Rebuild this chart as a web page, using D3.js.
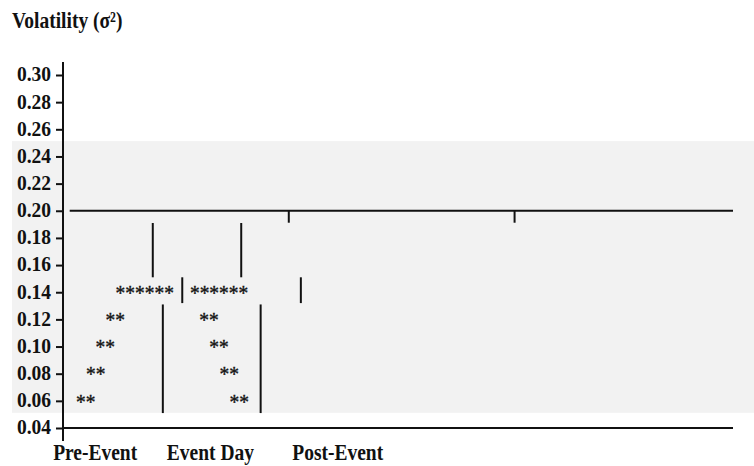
<!DOCTYPE html>
<html>
<head>
<meta charset="utf-8">
<script src="https://cdn.jsdelivr.net/npm/d3@7"></script>
<style>
  html, body { margin: 0; padding: 0; background: #ffffff; }
  svg { display: block; }
</style>
</head>
<body>
<div id="chart"></div>
<script>
// ---------------- data ----------------
const titleText = "Volatility (σ²)";
const yTicks = [0.04, 0.06, 0.08, 0.10, 0.12, 0.14, 0.16, 0.18, 0.20, 0.22, 0.24, 0.26, 0.28, 0.30];
const categories = ["Pre-Event", "Event Day", "Post-Event"];
const categoryPos = [4.8, 22.0, 41.0];          // position on the time axis (0-100)
const bandRange = [0.0512, 0.2513];              // shaded volatility band
const refLevel = 0.20;                            // reference level line
const refLineSpan = [1.0, 100];
const baseLevel = 0.04;
const baseLineSpan = [0, 100];
const refTickPos = [33.7, 67.4];                  // small marks hanging from the reference line
const refTickLow = 0.1912;
const barX   = [13.4, 26.6, 17.8, 35.5, 14.9, 29.5];
const barLow = [0.151, 0.151, 0.132, 0.132, 0.051, 0.051];
const barHigh= [0.191, 0.191, 0.151, 0.151, 0.131, 0.131];
const starX     = [3.4, 4.9, 6.3, 7.8, 12.2, 23.3, 21.8, 23.3, 24.8, 26.3];
const starValue = [0.06, 0.08, 0.10, 0.12, 0.14, 0.14, 0.12, 0.10, 0.08, 0.06];
const starCount = [2, 2, 2, 2, 6, 6, 2, 2, 2, 2];

// ---------------- layout ----------------
const W = 754, H = 466;
const FONT = "'Liberation Serif', 'Times New Roman', Times, serif";
const FS = 19.5;
const ink = "#111111";
const stretchBig = 1.15;    // vertical stretch of title / category text
const stretchTick = 1.08;   // vertical stretch of tick labels

const x = d3.scaleLinear().domain([0, 100]).range([63, 733]);
const y = d3.scaleLinear().domain([0.04, 0.30]).range([428, 75]);

const svg = d3.select("#chart").append("svg")
  .attr("width", W).attr("height", H)
  .style("background", "#ffffff");

// shaded band
svg.append("rect")
  .attr("x", 12).attr("width", W - 12)
  .attr("y", y(bandRange[1]))
  .attr("height", y(bandRange[0]) - y(bandRange[1]))
  .attr("fill", "#f2f2f2");

// title
svg.append("text")
  .attr("transform", `translate(12,28) scale(1,${stretchBig})`)
  .attr("font-family", FONT).attr("font-size", FS).attr("font-weight", "bold")
  .attr("fill", ink)
  .text(titleText);

// y axis
const yAxis = d3.axisLeft(y)
  .tickValues(yTicks)
  .tickFormat(d3.format(".2f"))
  .tickSize(7).tickSizeOuter(0).tickPadding(5);

const gy = svg.append("g").attr("transform", `translate(${x(0)},0)`).call(yAxis);
gy.select(".domain").remove();
gy.selectAll(".tick line").attr("stroke", ink).attr("stroke-width", 2);
gy.selectAll(".tick text")
  .attr("font-family", FONT).attr("font-size", FS).attr("font-weight", "bold")
  .attr("dy", "0.28em")
  .attr("transform", `scale(1,${stretchTick})`)
  .attr("fill", ink);
gy.append("line")
  .attr("x1", 0).attr("x2", 0)
  .attr("y1", y(0.30) - 13).attr("y2", y(0.04) + 13)
  .attr("stroke", ink).attr("stroke-width", 2);

// horizontal lines
svg.append("line")
  .attr("x1", x(refLineSpan[0])).attr("x2", x(refLineSpan[1]))
  .attr("y1", y(refLevel)).attr("y2", y(refLevel))
  .attr("stroke", ink).attr("stroke-width", 2.2);
svg.append("line")
  .attr("x1", x(baseLineSpan[0])).attr("x2", x(baseLineSpan[1]))
  .attr("y1", y(baseLevel)).attr("y2", y(baseLevel))
  .attr("stroke", ink).attr("stroke-width", 2.2);

// small marks under the reference line
svg.selectAll("line.reftick").data(refTickPos).enter().append("line")
  .attr("class", "reftick")
  .attr("x1", d => x(d)).attr("x2", d => x(d))
  .attr("y1", y(refLevel)).attr("y2", y(refTickLow))
  .attr("stroke", ink).attr("stroke-width", 2);

// vertical bars
svg.selectAll("line.bar").data(barX.map((v, i) => ({x: v, lo: barLow[i], hi: barHigh[i]})))
  .enter().append("line")
  .attr("class", "bar")
  .attr("x1", d => x(d.x)).attr("x2", d => x(d.x))
  .attr("y1", d => y(d.hi)).attr("y2", d => y(d.lo))
  .attr("stroke", ink).attr("stroke-width", 2);

// star runs
svg.selectAll("text.stars").data(starX.map((v, i) => ({x: v, v: starValue[i], n: starCount[i]})))
  .enter().append("text")
  .attr("class", "stars")
  .attr("transform", d => `translate(${x(d.x)},${y(d.v)}) scale(1,1.1)`)
  .attr("dy", "0.36em")
  .attr("text-anchor", "middle")
  .attr("font-family", FONT).attr("font-size", FS)
  .attr("fill", ink).attr("stroke", ink).attr("stroke-width", 0.35)
  .text(d => "*".repeat(d.n));

// category labels
svg.selectAll("text.cat").data(categories).enter().append("text")
  .attr("class", "cat")
  .attr("transform", (d, i) => `translate(${x(categoryPos[i])},460) scale(1,${stretchBig})`)
  .attr("text-anchor", "middle")
  .attr("font-family", FONT).attr("font-size", FS).attr("font-weight", "bold")
  .attr("fill", ink)
  .text(d => d);
</script>
</body>
</html>
